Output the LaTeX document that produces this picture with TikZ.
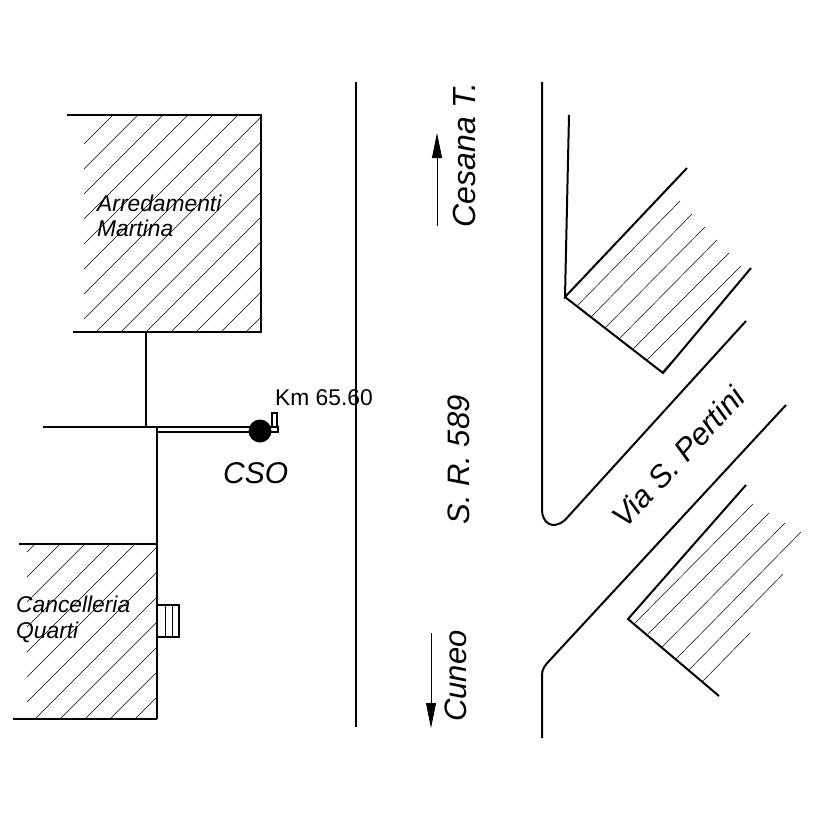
\documentclass[tikz,border=0pt]{standalone}
\usepackage{fontspec}
\setmainfont{Liberation Sans}
\usetikzlibrary{arrows.meta}
\tikzset{
    wall/.style={line width=2pt},
    hatchline/.style={line width=0.5pt},
    placename/.style={inner sep=0pt, anchor=base west, font=\fontsize{22.8}{25}\selectfont\itshape},
    roadname/.style={inner sep=0pt, anchor=base, rotate=90, font=\fontsize{31}{33}\selectfont\itshape},
    roadarrow/.style={line width=0.8pt, -{Stealth[length=25pt, width=10pt, inset=0pt]}}
}

\begin{document}
\begin{tikzpicture}[x=1pt, y=-1pt]
    \useasboundingbox (0,0) rectangle (827,827);

    % Arredamenti Martina
    \begin{scope}
        \clip (84,115) rectangle (261,332);
        \foreach \s in {228,253,...,578}
            \draw[hatchline] ({\s-115},115) -- ({\s-332},332);
    \end{scope}
    \draw[wall] (67,115) -- (261,115) -- (261,332) -- (73,332);
    \node[placename] (arredamenti) at (97,211) {Arredamenti};
    \node[placename] (martina) at (97,236) {Martina};

    % Cancelleria Quarti
    \begin{scope}
        \clip (27,544) rectangle (157,719);
        \foreach \s in {579,604,...,854}
            \draw[hatchline] ({\s-544},544) -- ({\s-719},719);
    \end{scope}
    \draw[wall] (19,544) -- (157,544);
    \draw[wall] (13,719) -- (157,719);
    \node[placename] (cancelleria) at (16,612) {Cancelleria};
    \node[placename] (quarti) at (16,638) {Quarti};
    \draw[line width=1.2pt] (157,605) rectangle (179,637);
    \draw[line width=1pt] (165,605) -- (165,637);
    \draw[line width=1pt] (172,605) -- (172,637);

    % allacciamento
    \draw[wall] (146,332) -- (146,427);
    \draw[wall] (43,427) -- (250,427);
    \draw[wall] (157,427) -- (157,719);
    \draw[wall] (157,432) -- (250,432);
    \fill (260,431) circle (11.5);
    \draw[line width=1.2pt] (272,413) rectangle (277,427);
    \draw[line width=1.2pt] (268,427) rectangle (278,432);
    \node[inner sep=0pt, anchor=base west, font=\fontsize{22.8}{25}\selectfont] (km) at (275,405) {Km 65.60};
    \node[inner sep=0pt, anchor=base west, font=\fontsize{30}{32}\selectfont\itshape] (cso) at (223,483) {CSO};

    % S.R. 589
    \draw[wall] (356,82) -- (356,727);
    \node[roadname, font=\fontsize{32}{34}\selectfont\itshape] (cesana) at (475,155) {Cesana T.};
    \node[roadname] (sr) at (469,460) {S. R. 589};
    \node[roadname] (cuneo) at (466,676) {Cuneo};
    \draw[roadarrow] (437,226) -- (437,133);
    \draw[roadarrow] (431,633) -- (431,728);

    % Via S. Pertini
    \draw[wall] (542,82) -- (542,510) .. controls (542,522) and (552,531) .. (565,520) -- (746,321);
    \draw[wall] (542,738) -- (542,675) .. controls (542,669) and (545,665) .. (550,660) -- (786,405);
    \node[inner sep=0pt, anchor=base west, rotate=47, font=\fontsize{31}{33}\selectfont\itshape] (pertini) at (625,530) {Via S. Pertini};

    % edificio in alto
    \draw[wall] (569,115) -- (565,297) -- (687,168);
    \draw[wall] (565,297) -- (663,373) -- (751,268);
    \foreach \ax/\ay/\bx/\by in {577/306/680/201, 591/317/692/214, 605/328/705/227, 619/339/717/240, 633/349/729/253, 647/360/741/266, 662/372/675/358}
        \draw[hatchline] (\ax,\ay) -- (\bx,\by);

    % edificio in basso
    \draw[wall] (746,485) -- (628,619) -- (719,696);
    \foreach \ax/\ay/\bx/\by in {635/623/753/504, 648/634/769/513, 662/647/785/523, 676/659/801/532, 689/670/783/574, 703/681/750/633}
        \draw[hatchline] (\ax,\ay) -- (\bx,\by);
\end{tikzpicture}
\end{document}
